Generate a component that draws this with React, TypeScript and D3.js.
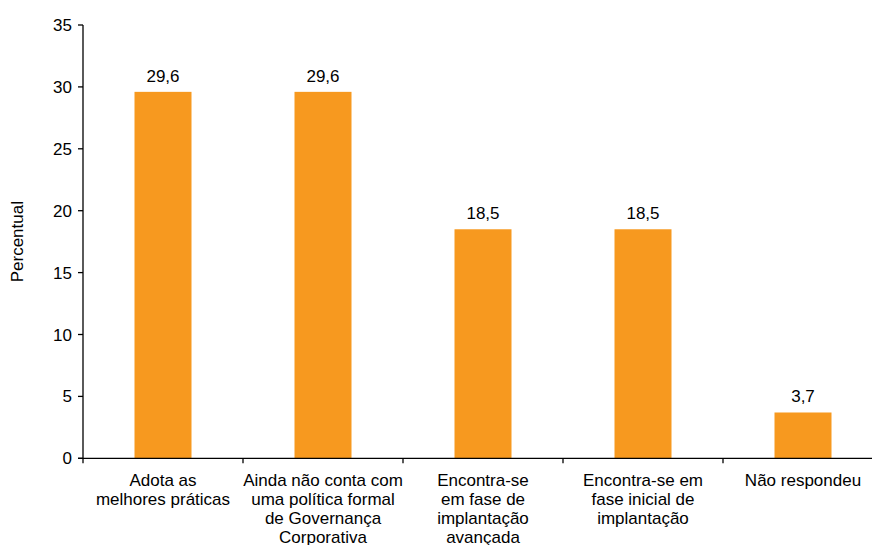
import React from "react";
import * as d3 from "d3";

const categories: string[][] = [
  ["Adota as", "melhores práticas"],
  ["Ainda não conta com", "uma política formal", "de Governança", "Corporativa"],
  ["Encontra-se", "em fase de", "implantação", "avançada"],
  ["Encontra-se em", "fase inicial de", "implantação"],
  ["Não respondeu"],
];
const values: number[] = [29.6, 29.6, 18.5, 18.5, 3.7];
const valueLabels: string[] = ["29,6", "29,6", "18,5", "18,5", "3,7"];
const yTicks: number[] = [0, 5, 10, 15, 20, 25, 30, 35];
const yLabel = "Percentual";

const W = 872;
const H = 545;
const left = 83;
const right = 883;
const top = 25;
const bottom = 458.3;
const FONT = "'Liberation Sans', Arial, sans-serif";
const FS = 17;

export default function App() {
  const x = d3.scaleBand<number>().domain(d3.range(categories.length)).range([left, right]).paddingInner(0).paddingOuter(0);
  const y = d3.scaleLinear().domain([0, 35]).range([bottom, top]);
  const bw = 57;
  return (
    <svg width={W} height={H} style={{ position: "absolute", left: 0, top: 0 }} fontFamily={FONT}>
      {values.map((v, i) => {
        const cx = (x(i) as number) + x.bandwidth() / 2;
        return (
          <g key={i}>
            <rect x={cx - bw / 2} y={y(v)} width={bw} height={bottom - y(v)} fill="#F7991F" />
            <text x={cx} y={y(v) - 10} textAnchor="middle" fontSize={FS} fill="#000">
              {valueLabels[i]}
            </text>
            {categories[i].map((line, j) => (
              <text key={j} x={cx} y={bottom + 28 + j * 19} textAnchor="middle" fontSize={FS} fill="#000">
                {line}
              </text>
            ))}
          </g>
        );
      })}
      {/* y axis */}
      <line x1={left} x2={left} y1={top} y2={bottom} stroke="#000" strokeWidth={1.3} />
      {yTicks.map((t) => (
        <g key={t}>
          <line x1={left - 5} x2={left} y1={y(t)} y2={y(t)} stroke="#000" strokeWidth={1.3} />
          <text x={left - 11} y={y(t) + 6} textAnchor="end" fontSize={FS} fill="#000">
            {t}
          </text>
        </g>
      ))}
      {/* x axis */}
      <line x1={left - 5} x2={W} y1={bottom} y2={bottom} stroke="#000" strokeWidth={1.3} />
      {d3.range(categories.length).map((i) => (
        <line key={i} x1={x(i) as number} x2={x(i) as number} y1={bottom} y2={bottom + 5} stroke="#000" strokeWidth={1.3} />
      ))}
      <text transform={`translate(23,${(top + bottom) / 2}) rotate(-90)`} textAnchor="middle" fontSize={FS} fill="#000">
        {yLabel}
      </text>
    </svg>
  );
}
